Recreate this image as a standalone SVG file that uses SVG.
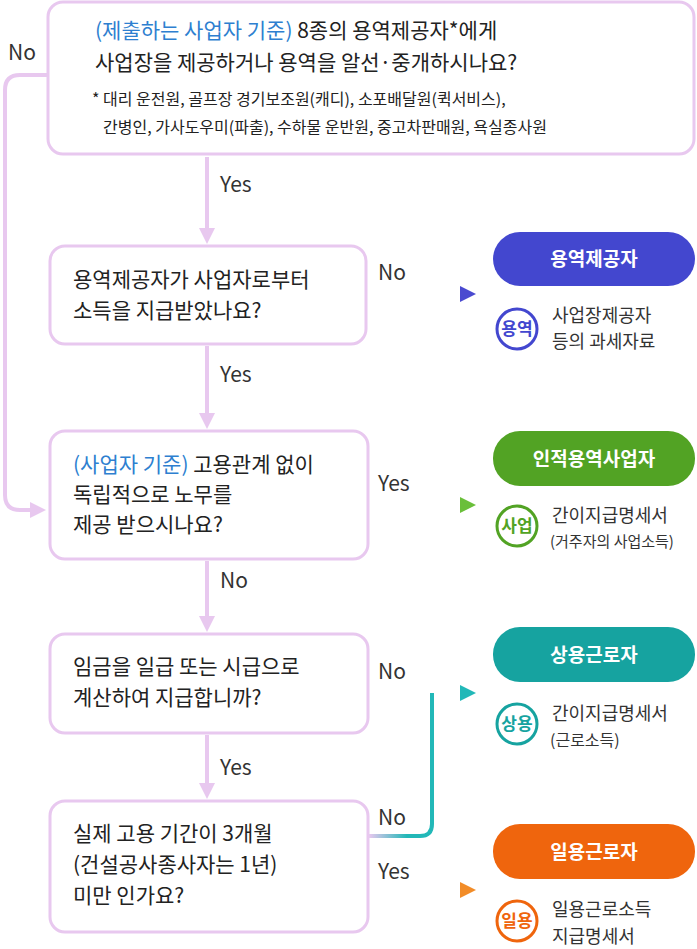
<svg xmlns="http://www.w3.org/2000/svg" width="697" height="949" viewBox="0 0 697 949">
<style>
text{font-family:"Noto Sans CJK KR","Noto Sans",sans-serif;fill:#222}
.box{fill:#fff;stroke:#e8c8ef;stroke-width:3}
.q{font-size:21px}
.lab{font-size:21px;fill:#333}
.pill{font-size:19px;font-weight:bold;fill:#fff}
.badge{font-size:17px;font-weight:bold}
.desc{font-size:18px;fill:#333}
.v{stroke:#e8c8ef;stroke-width:4;fill:none}
</style>
<defs>
<marker id="mp" viewBox="0 0 10 10" refX="5" refY="5" markerWidth="4" markerHeight="4" orient="auto"><path d="M0,0L10,5L0,10z" fill="#e8c8ef"/></marker>
<marker id="mb" viewBox="0 0 10 10" refX="5" refY="5" markerWidth="4" markerHeight="4" orient="auto"><path d="M0,0L10,5L0,10z" fill="#4a4ad0"/></marker>
<marker id="mg" viewBox="0 0 10 10" refX="5" refY="5" markerWidth="4" markerHeight="4" orient="auto"><path d="M0,0L10,5L0,10z" fill="#6abf3a"/></marker>
<marker id="mt" viewBox="0 0 10 10" refX="5" refY="5" markerWidth="4" markerHeight="4" orient="auto"><path d="M0,0L10,5L0,10z" fill="#22b8b8"/></marker>
<marker id="mo" viewBox="0 0 10 10" refX="5" refY="5" markerWidth="4" markerHeight="4" orient="auto"><path d="M0,0L10,5L0,10z" fill="#f28c28"/></marker>
<linearGradient id="gb" x1="0" x2="1"><stop offset="0" stop-color="#e8c8ef"/><stop offset="1" stop-color="#4a4ad0"/></linearGradient>
<linearGradient id="gg" x1="0" x2="1"><stop offset="0" stop-color="#e8c8ef"/><stop offset="1" stop-color="#6abf3a"/></linearGradient>
<linearGradient id="gt" x1="0" x2="1"><stop offset="0" stop-color="#e8c8ef"/><stop offset="0.6" stop-color="#22b8b8"/></linearGradient>
<linearGradient id="go" x1="0" x2="1"><stop offset="0" stop-color="#e8c8ef"/><stop offset="1" stop-color="#f28c28"/></linearGradient>
</defs>
<g id="connectors">
<path class="v" d="M207,157V236" marker-end="url(#mp)"/>
<path class="v" d="M207,346V421" marker-end="url(#mp)"/>
<path class="v" d="M207,561V624" marker-end="url(#mp)"/>
<path class="v" d="M207,735V791" marker-end="url(#mp)"/>
<path class="v" d="M47,75H20Q5,75 5,90V495Q5,510 20,510H38" marker-end="url(#mp)"/>
<path d="M367,294H468" stroke="url(#gb)" stroke-width="4" fill="none" marker-end="url(#mb)"/>
<path d="M369,505H468" stroke="url(#gg)" stroke-width="4" fill="none" marker-end="url(#mg)"/>
<path d="M369,693H468" stroke="url(#gt)" stroke-width="4" fill="none" marker-end="url(#mt)"/>
<path d="M369,836H420Q432,836 432,824V693" stroke="url(#gt)" stroke-width="4" fill="none"/>
<path d="M369,890H468" stroke="url(#go)" stroke-width="4" fill="none" marker-end="url(#mo)"/>
<text x="8" y="60" class="lab">No</text>
<text x="220" y="192" class="lab">Yes</text>
<text x="220" y="382" class="lab">Yes</text>
<text x="220" y="588" class="lab">No</text>
<text x="220" y="775" class="lab">Yes</text>
<text x="378" y="280" class="lab">No</text>
<text x="378" y="491" class="lab">Yes</text>
<text x="378" y="679" class="lab">No</text>
<text x="378" y="825" class="lab">No</text>
<text x="378" y="879" class="lab">Yes</text>
</g>
<g id="q1">
<rect class="box" x="48" y="2" width="646" height="152" rx="15"/>
<text x="95" y="38" class="q"><tspan fill="#2e7fd0">(제출하는 사업자 기준)</tspan> 8종의 용역제공자*에게</text>
<text x="95" y="70" class="q">사업장을 제공하거나 용역을 알선·중개하시나요?</text>
<text x="92" y="105" font-size="16">* 대리 운전원, 골프장 경기보조원(캐디), 소포배달원(퀵서비스),</text>
<text x="103" y="133" font-size="16">간병인, 가사도우미(파출), 수하물 운반원, 중고차판매원, 욕실종사원</text>
</g>
<g id="q2">
<rect class="box" x="50" y="246" width="316" height="98" rx="15"/>
<text x="73" y="287" class="q">용역제공자가 사업자로부터</text>
<text x="73" y="318" class="q">소득을 지급받았나요?</text>
</g>
<g id="q3">
<rect class="box" x="50" y="431" width="318" height="128" rx="15"/>
<text x="73" y="472" class="q"><tspan fill="#2e7fd0">(사업자 기준)</tspan> 고용관계 없이</text>
<text x="73" y="502" class="q">독립적으로 노무를</text>
<text x="73" y="532" class="q">제공 받으시나요?</text>
</g>
<g id="q4">
<rect class="box" x="50" y="634" width="318" height="99" rx="15"/>
<text x="73" y="674" class="q">임금을 일급 또는 시급으로</text>
<text x="73" y="705" class="q">계산하여 지급합니까?</text>
</g>
<g id="q5">
<rect class="box" x="50" y="801" width="318" height="131" rx="15"/>
<text x="73" y="841" class="q">실제 고용 기간이 3개월</text>
<text x="73" y="872" class="q">(건설공사종사자는 1년)</text>
<text x="73" y="903" class="q">미만 인가요?</text>
</g>
<g id="r1">
<rect x="493" y="232" width="202" height="54" rx="27" fill="#4347cf"/>
<text x="594" y="266" text-anchor="middle" class="pill">용역제공자</text>
<circle cx="517" cy="329" r="20" fill="#fff" stroke="#4347cf" stroke-width="3"/>
<text x="517" y="335" text-anchor="middle" class="badge" fill="#4347cf" style="fill:#4347cf">용역</text>
<text x="552" y="322" class="desc">사업장제공자</text>
<text x="552" y="348" class="desc">등의 과세자료</text>
</g>
<g id="r2">
<rect x="493" y="431" width="202" height="55" rx="27" fill="#52a324"/>
<text x="594" y="466" text-anchor="middle" class="pill">인적용역사업자</text>
<circle cx="517" cy="526" r="20" fill="#fff" stroke="#52a324" stroke-width="3"/>
<text x="517" y="532" text-anchor="middle" class="badge" style="fill:#52a324">사업</text>
<text x="552" y="522" class="desc">간이지급명세서</text>
<text x="550" y="547" font-size="15" style="fill:#333">(거주자의 사업소득)</text>
</g>
<g id="r3">
<rect x="493" y="627" width="202" height="55" rx="27" fill="#16a3a0"/>
<text x="594" y="662" text-anchor="middle" class="pill">상용근로자</text>
<circle cx="517" cy="724" r="20" fill="#fff" stroke="#16a3a0" stroke-width="3"/>
<text x="517" y="730" text-anchor="middle" class="badge" style="fill:#16a3a0">상용</text>
<text x="552" y="720" class="desc">간이지급명세서</text>
<text x="550" y="746" font-size="16" style="fill:#333">(근로소득)</text>
</g>
<g id="r4">
<rect x="493" y="824" width="202" height="55" rx="27" fill="#ef650d"/>
<text x="594" y="859" text-anchor="middle" class="pill">일용근로자</text>
<circle cx="517" cy="921" r="20" fill="#fff" stroke="#ef650d" stroke-width="3"/>
<text x="517" y="927" text-anchor="middle" class="badge" style="fill:#ef650d">일용</text>
<text x="552" y="916" class="desc">일용근로소득</text>
<text x="552" y="943" class="desc">지급명세서</text>
</g>
</svg>
